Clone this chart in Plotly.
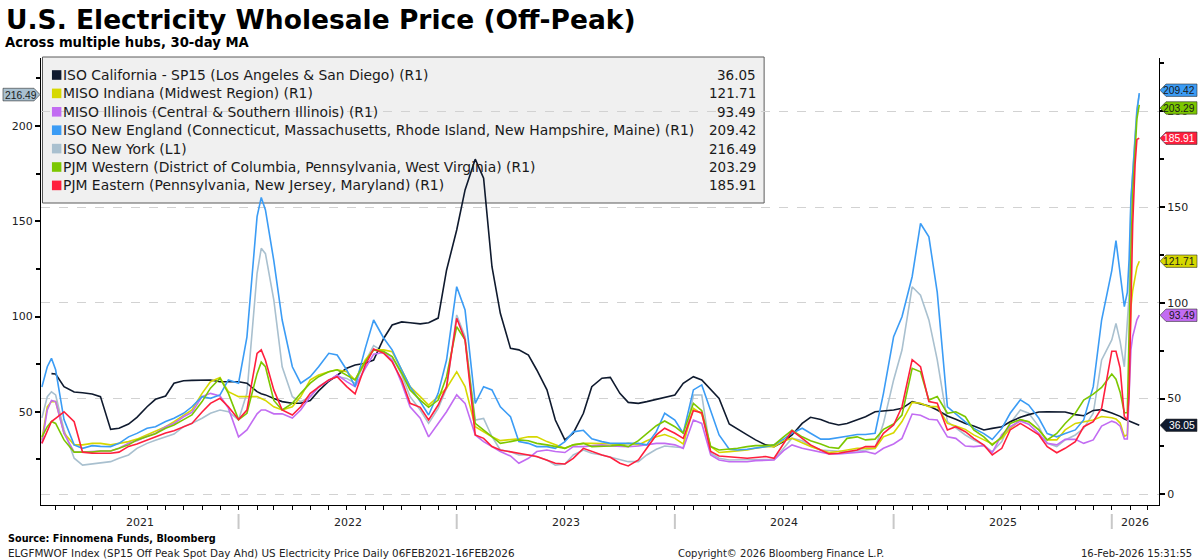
import plotly.graph_objects as go
from datetime import datetime

# ---------------- data (30-day MA, $/MWh) ----------------
dates = [
    "2021-02-06", "2021-02-15", "2021-02-22", "2021-03-01", "2021-03-15", "2021-04-01", "2021-04-15",
    "2021-05-01", "2021-05-15", "2021-06-01", "2021-06-15", "2021-07-01", "2021-07-15", "2021-08-01",
    "2021-08-15", "2021-09-01", "2021-09-15", "2021-10-01", "2021-10-15", "2021-11-01", "2021-11-15",
    "2021-12-01", "2021-12-15",
    "2022-01-01", "2022-01-15", "2022-02-01", "2022-02-08", "2022-02-15", "2022-03-01", "2022-03-15",
    "2022-04-01", "2022-04-15", "2022-05-01", "2022-05-15", "2022-06-01", "2022-06-15", "2022-07-01",
    "2022-07-15", "2022-08-01", "2022-08-15", "2022-09-01", "2022-09-15", "2022-10-01", "2022-10-15",
    "2022-11-01", "2022-11-15", "2022-12-01", "2022-12-15",
    "2023-01-01", "2023-01-15", "2023-02-01", "2023-02-15", "2023-03-01", "2023-03-15", "2023-04-01",
    "2023-04-15", "2023-05-01", "2023-05-15", "2023-06-01", "2023-06-15", "2023-07-01", "2023-07-15",
    "2023-08-01", "2023-08-15", "2023-09-01", "2023-09-15", "2023-10-01", "2023-10-15", "2023-11-01",
    "2023-11-15", "2023-12-01", "2023-12-15",
    "2024-01-01", "2024-01-15", "2024-02-01", "2024-02-15", "2024-03-01", "2024-03-15", "2024-04-01",
    "2024-04-15", "2024-05-01", "2024-05-15", "2024-06-01", "2024-06-15", "2024-07-01", "2024-07-15",
    "2024-08-01", "2024-08-15", "2024-09-01", "2024-09-15", "2024-10-01", "2024-10-15", "2024-11-01",
    "2024-11-15", "2024-12-01", "2024-12-15",
    "2025-01-01", "2025-01-15", "2025-02-01", "2025-02-15", "2025-03-01", "2025-03-15", "2025-04-01",
    "2025-04-15", "2025-05-01", "2025-05-15", "2025-06-01", "2025-06-15", "2025-07-01", "2025-07-15",
    "2025-08-01", "2025-08-15", "2025-09-01", "2025-09-15", "2025-10-01", "2025-10-15", "2025-11-01",
    "2025-11-15", "2025-12-01", "2025-12-15",
    "2026-01-01", "2026-01-08", "2026-01-15", "2026-01-22", "2026-01-27", "2026-01-30", "2026-02-02",
    "2026-02-05", "2026-02-09", "2026-02-12", "2026-02-16",
]

iso_california = [
    None, None, 63, 62.8, 56.2, 53.4, 53, 52.4, 51, 33.9, 34.5, 36.7, 40.2, 45.7, 49.6, 51.3, 58, 59.3, 59.5, 59.7, 59.7, 58.8, 58.8,
    58.8, 58, 53.6, 52.5, 51.9, 50, 48.4, 47.5, 47.5, 49, 54, 59, 62.3, 65.8, 67.5, 68.4, 70.1, 81.5, 88.4, 90, 89.6, 89, 89.6, 92, 117,
    138, 158.9, 175, 165, 118.8, 94.5, 76.2, 75.4, 72.7, 64.9, 54.5, 38.8, 28.4, 31.9, 42.3, 56.2, 60.6, 61, 52.7, 48, 47.5, 48.4, 49.6, 50.6,
    51.8, 57.9, 61.4, 59.7, 54.5, 50.1, 36.7, 33.9, 31, 28.4, 25.8, 24.9, 27.5, 31, 37, 40.2, 39.1, 37.4, 36.2, 37, 38.8, 40.5, 43.1, 43.6,
    44, 44.9, 48.4, 47.2, 46.1, 44, 40.9, 39.2, 37, 35.6, 33.6, 34.4, 35.3, 37.9, 40.2, 41.6, 43, 43.1, 43.1, 43, 41.6, 41, 43.8, 44.2,
    42.5, 41.6, 40.7, 39.3, 38.6, 38.3, 37.9, 37.4, 37.1, 36.6, 36.05,
]

miso_indiana = [
    28.4, 45.7, 48.4, 48.4, 32, 25.8, 25.8, 26.6, 26.6, 25.8, 26.6, 27.5, 28.8, 31.1, 32.9, 35.3, 37.9, 41.4, 44, 52.7, 58.8, 61, 53.6,
    51, 51, 51, 50, 49, 45.7, 44, 45.7, 51, 59.7, 62.3, 64, 65, 64, 59.7, 70.1, 75.4, 75.4, 74.5, 64.9, 56.2, 51, 46.6, 51, 55.4,
    64, 56.2, 35.3, 32.7, 30, 28, 28.5, 29, 30, 30, 27.5, 25.8, 24, 25.8, 26.6, 26.6, 26.6, 26.3, 25.8, 26.6, 25.8, 28, 30, 31.2,
    29.2, 26.3, 44.9, 41.9, 24.9, 21.8, 22.3, 22.8, 23.1, 24, 24.9, 24.9, 28, 29.2, 26.9, 24.9, 23.1, 21.8, 22.3, 23.1, 24, 24, 24, 30,
    32.1, 38, 48, 47.5, 45.8, 45.8, 37, 35.7, 33.9, 31, 28.4, 26.3, 29.2, 34.4, 38.8, 37.9, 33.6, 28.4, 28.4, 33.6, 37, 37.9, 38.8, 40.6,
    40, 39.3, 37.2, 30.3, 31.1, 61.1, 97.6, 106.4, 113.3, 118.6, 121.71,
]

miso_illinois = [
    26.6, 44, 49, 48.4, 31.8, 22, 22, 22.5, 22.6, 22.6, 24, 26.6, 28, 30.3, 31.8, 35.3, 37, 40.5, 42.8, 51, 52.7, 51.3, 45,
    30, 33.6, 42, 44, 44, 42, 42, 39.8, 44, 51, 56, 59.7, 62.3, 58.8, 56.2, 65.8, 73.1, 74, 70.1, 58, 45.7, 39.7, 30, 37, 43.1,
    51.9, 47.5, 31, 27.5, 24.9, 22.3, 20, 16.2, 18.8, 22.3, 23.1, 22.3, 21.8, 24.9, 24.9, 25.2, 25.8, 25.2, 24.9, 24.9, 25.2, 25.8, 26.6, 26.6,
    25.8, 24, 38.8, 37, 20.5, 17.9, 17, 17, 17, 17.6, 17.9, 17.9, 22.8, 25.8, 24, 23.1, 21.8, 21.1, 21.1, 21.4, 21.8, 22.3, 21.1, 24,
    26.3, 29.2, 41.9, 41.3, 39.2, 38.8, 30, 29.2, 25.2, 24.9, 25.4, 21.7, 31.1, 35.3, 38.3, 36.6, 31.7, 26.6, 25.8, 28.7, 28.7, 26.6, 28.4, 35.6,
    38.2, 37.4, 35.6, 28.9, 28.9, 52.8, 75.4, 82.4, 87.7, 91.1, 93.49,
]

iso_new_england = [
    56, 66.6, 71, 65, 39, 25.8, 24, 25.4, 25, 24.9, 26.6, 30, 31.8, 34.5, 35.3, 38, 39.7, 42.3, 45.7, 51, 50.1, 51.9, 59.7,
    58, 82, 145, 155, 148.5, 122, 91, 66.6, 58, 61.4, 66.6, 73.6, 72.7, 64.9, 56.2, 76.2, 91, 81.5, 75.4, 64.9, 56.2, 48.4, 41.4, 52.7, 70.1,
    108.4, 96.2, 47.5, 56.2, 54.5, 45.7, 40.5, 27.5, 26.6, 24.9, 24.9, 24, 27.5, 32.6, 33.4, 29, 27.5, 26.6, 26.6, 26.6, 26.6, 25.8, 32.7, 42.3,
    38.8, 31.9, 54.5, 57.1, 43.1, 31, 23.5, 23.1, 23.5, 24, 24.9, 25.8, 28.8, 31.9, 34.5, 31.9, 28.8, 28.8, 29.4, 30.3, 31.2, 31.2, 31.9, 52.7,
    82.3, 92.7, 113.6, 141.4, 134.4, 105.4, 45.7, 41.9, 37.8, 34.4, 31.7, 28.6, 34.4, 42.3, 49.3, 46.6, 39.7, 31.7, 30, 31.7, 33.6, 38.8, 56.2, 91,
    116.8, 132.4, 113.6, 98, 105.4, 122.8, 154, 169.7, 185.4, 199.4, 209.42,
]

iso_new_york = [
    46.8, 57.9, 60.5, 58.8, 40.4, 25.6, 22, 22.6, 23.3, 23.8, 25.6, 27.3, 30.8, 33.4, 35, 36.9, 38.3, 42.2, 43.9, 46.6, 49.2, 50.9, 50,
    45.7, 59.7, 122.7, 135.8, 133, 108.7, 73.6, 57.9, 55.3, 57.9, 63.2, 66.7, 68.4, 67.5, 64.9, 76.3, 84.7, 81.5, 78.9, 69.3, 57.9, 50.9, 43.9, 51.8, 62.3,
    100.8, 89.4, 45.7, 46.5, 36.9, 29.9, 29, 27.3, 27.3, 26.4, 24.7, 22, 22.6, 27.3, 29.9, 28.2, 27.3, 26.1, 24.7, 23.8, 23.8, 27.3, 30.3, 32,
    31.5, 31.1, 58.8, 58.8, 28.2, 25.6, 24.7, 24.7, 24.7, 24.7, 24.7, 25, 30.8, 36.1, 34.8, 32, 29.9, 29.6, 29, 29, 29.6, 29.9, 30.8, 43.9,
    66.7, 82.4, 115.6, 111.2, 98.2, 77.2, 44.8, 41.3, 37.8, 35.2, 32.5, 29, 34.3, 43.9, 50.9, 49.2, 42.2, 33.4, 31.7, 35.2, 37.8, 41.3, 49.2, 77.2,
    87.7, 96.4, 86.8, 73.6, 94.5, 111.2, 160, 177.5, 195, 209, 216.49,
]

pjm_western = [
    30, 35.3, 38, 37, 28.4, 22, 22, 22, 22.6, 22.6, 24, 25.8, 28.4, 30.3, 31.6, 34.5, 36.2, 39, 41.4, 48.4, 55.4, 60.6, 52.7,
    39, 42.3, 63, 69, 66.6, 49, 44, 47.5, 52.7, 58, 61.4, 64, 65, 62.3, 59.7, 69.2, 75.4, 74.5, 71.9, 63.2, 54.5, 49.2, 45.4, 49.2, 61.4,
    87.5, 80.6, 37, 33.6, 30, 26.6, 27.5, 28.4, 28, 26.6, 25.8, 24.9, 24, 25.8, 26.6, 24.9, 24.9, 25.2, 25.8, 24.9, 28, 31.5, 35.8, 38.3,
    35.3, 31.9, 47.5, 43.7, 24.9, 23.1, 23.5, 24, 24.9, 25.4, 25.4, 25.8, 30, 33.4, 30, 28, 26.3, 24.6, 24, 29.2, 30, 28.4, 28.8, 33.9,
    36.7, 41.4, 65.8, 64, 49.2, 51, 42.3, 43.1, 40.5, 33.6, 30, 25.7, 30, 37, 39, 37.9, 33.6, 28.4, 31.8, 37, 42.3, 49.2, 52.3, 55.8,
    62.8, 60.1, 53.3, 42.6, 42.6, 88.4, 126.5, 157.6, 183.3, 196, 203.29,
]

pjm_eastern = [
    26.6, 33.6, 38, 39.7, 43.1, 37.9, 22, 21.4, 21.4, 21.4, 22, 25, 26.3, 28.4, 30.3, 32, 33.2, 35.3, 37, 43, 47.5, 50.1, 45.7,
    39, 44, 73.6, 75.4, 70, 54.5, 44, 41.4, 45.7, 52.7, 56, 59.7, 61.4, 56.2, 52.4, 67.5, 75.9, 73.6, 69.2, 59.7, 47.5, 45.4, 38.8, 46.6, 56.2,
    91.9, 80.6, 31, 29.2, 24.9, 23.1, 22.3, 21.4, 20.5, 19.7, 17.9, 16.2, 15.8, 18.8, 24, 22.3, 20.5, 19.3, 16.2, 14.8, 17.9, 24, 31, 34.5,
    31.9, 29.2, 43.7, 42.6, 22.3, 20, 19.7, 19.4, 18.8, 19.2, 19.7, 18.8, 26.6, 33.2, 29.2, 25.8, 23.1, 21.1, 21.4, 22.3, 23.1, 24.9, 24.9, 31.8,
    36.2, 45.7, 70.3, 66.6, 48.4, 47.5, 33.6, 35.3, 32.7, 29.2, 25.7, 20.5, 24, 33.6, 37, 34.4, 31, 24.9, 21.7, 24, 27.5, 35.3, 37.9, 45,
    74.7, 74.7, 65.9, 40.6, 38.9, 52.8, 101.5, 141.1, 172.4, 185.3, 185.91,
]

series_names = [
    "ISO California - SP15 (Los Angeles & San Diego) (R1)",
    "MISO Indiana (Midwest Region) (R1)",
    "MISO Illinois (Central & Southern Illinois) (R1)",
    "ISO New England (Connecticut, Massachusetts, Rhode Island, New Hampshire, Maine) (R1)",
    "ISO New York (L1)",
    "PJM Western (District of Columbia, Pennsylvania, West Virginia) (R1)",
    "PJM Eastern (Pennsylvania, New Jersey, Maryland) (R1)",
]
series_values = [iso_california, miso_indiana, miso_illinois, iso_new_england,
                 iso_new_york, pjm_western, pjm_eastern]
last_labels = ["36.05", "121.71", "93.49", "209.42", "216.49", "203.29", "185.91"]
year_labels = ["2021", "2022", "2023", "2024", "2025", "2026"]

# ---------------- styling ----------------
colors = ["#0f1a2e", "#d6d800", "#c26cf2", "#3b9cf5", "#a9c0cf", "#7cc700", "#ff1f3d"]
tag_text_colors = ["#ffffff", "#1a1a1a", "#1a1a1a", "#1a1a1a", "#1a1a1a", "#1a1a1a", "#ffffff"]
tag_nudge = [0, 0, 0, 3, 0, -3, 0]
axes = ["y2", "y2", "y2", "y2", "y", "y2", "y2"]

for v in series_values:
    assert len(v) == len(dates)

W, H = 1200, 560
ML, MR, MT, MB = 38, 38, 58, 55
PW = W - ML - MR
PH = H - MT - MB
FONT = "DejaVu Sans"
NARROW = "Liberation Sans"


def px(X):
    return (X - ML) / PW


def py(Y):
    return (H - MB - Y) / PH


fig = go.Figure()
for name, vals, col, ax in zip(series_names, series_values, colors, axes):
    fig.add_trace(go.Scatter(
        x=dates, y=vals, mode="lines", name=name, yaxis=ax,
        line=dict(color=col, width=1.6), showlegend=False, hoverinfo="skip",
    ))

x_start = "2021-02-04 12:00"
x_end = "2026-03-21"

shapes = []
annotations = []

# legend box (below the lines and gridlines, like the reference)
shapes.append(dict(type="rect", xref="paper", yref="paper", layer="below",
                   x0=px(39.5), x1=px(765), y0=py(203), y1=py(57),
                   fillcolor="#f0f0f0", line=dict(color="#5a5a5a", width=1)))
row_y = [75, 93.4, 111.8, 130.2, 148.6, 167, 185.4]
for i, (name, col, lab) in enumerate(zip(series_names, colors, last_labels)):
    yc = row_y[i]
    shapes.append(dict(type="rect", xref="paper", yref="paper", layer="above",
                       x0=px(49), x1=px(58.5), y0=py(yc + 4.8), y1=py(yc - 4.8),
                       fillcolor=col, line=dict(width=0)))
    annotations.append(dict(xref="paper", yref="paper", x=px(58), y=py(yc),
                            xanchor="left", yanchor="middle", showarrow=False,
                            text=name, font=dict(family=FONT, size=13.9, color="#1a1a1a")))
    annotations.append(dict(xref="paper", yref="paper", x=px(759), y=py(yc),
                            xanchor="right", yanchor="middle", showarrow=False,
                            text=lab, font=dict(family=FONT, size=13.5, color="#1a1a1a")))

# value tags on the axes
for vals, col, tcol, ax, lab, nud in zip(series_values, colors, tag_text_colors, axes, last_labels, tag_nudge):
    last = vals[-1]
    if ax == "y2":
        shapes.append(dict(type="path", xref="paper", yref="y2", xsizemode="pixel", ysizemode="pixel",
                           xanchor=1.0, yanchor=last, layer="above",
                           path="M 1 %s L 7 %s L 38 %s L 38 %s L 7 %s Z" % (nud, 6.2 + nud, 6.2 + nud, -6.2 + nud, -6.2 + nud),
                           fillcolor=col, line=dict(color="#333333", width=0.6)))
        annotations.append(dict(xref="paper", yref="y2", x=1.0, y=last, xanchor="right", yanchor="middle",
                                xshift=38, yshift=nud, height=10, showarrow=False, text=lab,
                                font=dict(family=NARROW, size=10.3, color=tcol)))
    else:
        shapes.append(dict(type="path", xref="paper", yref="y", xsizemode="pixel", ysizemode="pixel",
                           xanchor=0.0, yanchor=last, layer="above",
                           path="M -1 0 L -7 6.3 L -38 6.3 L -38 -6.3 L -7 -6.3 Z",
                           fillcolor=col, line=dict(color="#333333", width=0.6)))
        annotations.append(dict(xref="paper", yref="y", x=0.0, y=last, xanchor="left", yanchor="middle",
                                xshift=-38, height=10, showarrow=False, text=lab,
                                font=dict(family=NARROW, size=10.3, color=tcol)))

# year separators and labels below the x axis
bounds = [datetime(2021, 2, 4, 12), datetime(2022, 1, 1), datetime(2023, 1, 1), datetime(2024, 1, 1),
          datetime(2025, 1, 1), datetime(2026, 1, 1), datetime(2026, 3, 21)]
for b in bounds[1:-1]:
    shapes.append(dict(type="line", xref="x", yref="paper", x0=b, x1=b,
                       y0=py(514), y1=py(529), line=dict(color="#c8c8c8", width=2)))
for i, lab in enumerate(year_labels):
    mid = bounds[i] + (bounds[i + 1] - bounds[i]) / 2
    annotations.append(dict(xref="x", yref="paper", x=mid, y=py(522), xanchor="center", yanchor="middle",
                            showarrow=False, text=lab, font=dict(family=FONT, size=11, color="#222222")))

# titles & footer
annotations += [
    dict(xref="paper", yref="paper", x=px(1), y=py(19), xanchor="left", yanchor="middle", showarrow=False,
         text="<b>U.S. Electricity Wholesale Price (Off-Peak)</b>",
         font=dict(family=FONT, size=26.5, color="#000000")),
    dict(xref="paper", yref="paper", x=px(0), y=py(43), xanchor="left", yanchor="middle", showarrow=False,
         text="<b>Across multiple hubs, 30-day MA</b>", font=dict(family=FONT, size=13.2, color="#000000")),
    dict(xref="paper", yref="paper", x=px(3), y=py(538), xanchor="left", yanchor="middle", showarrow=False,
         text="<b>Source: Finnomena Funds, Bloomberg</b>", font=dict(family=FONT, size=9.7, color="#000000")),
    dict(xref="paper", yref="paper", x=px(3), y=py(553), xanchor="left", yanchor="middle", showarrow=False,
         text="ELGFMWOF Index (SP15 Off Peak Spot Day Ahd) US Electricity Price Daily 06FEB2021-16FEB2026",
         font=dict(family=FONT, size=10.4, color="#222222")),
    dict(xref="paper", yref="paper", x=px(676), y=py(553), xanchor="left", yanchor="middle", showarrow=False,
         text="Copyright© 2026 Bloomberg Finance L.P.", font=dict(family=FONT, size=10, color="#222222")),
    dict(xref="paper", yref="paper", x=px(1197), y=py(553), xanchor="right", yanchor="middle", showarrow=False,
         text="16-Feb-2026 15:31:55", font=dict(family=FONT, size=10, color="#222222")),
]

fig.update_layout(
    width=W, height=H,
    margin=dict(l=ML, r=MR, t=MT, b=MB, pad=0),
    paper_bgcolor="#ffffff", plot_bgcolor="#ffffff",
    font=dict(family=FONT, size=11, color="#222222"),
    showlegend=False,
    shapes=shapes, annotations=annotations,
    xaxis=dict(type="date", range=[x_start, x_end], showgrid=False, zeroline=False,
               showline=True, linecolor="#000000", linewidth=1,
               ticks="outside", ticklen=4, tickcolor="#000000", tick0="2021-01-01", dtick="M1",
               showticklabels=False, fixedrange=True),
    yaxis=dict(range=[1.05, 235.7], side="left", showgrid=False, zeroline=False,
               showline=True, linecolor="#000000", linewidth=1,
               tickvals=[50, 100, 150, 200], ticks="outside", ticklen=5, tickwidth=2, tickcolor="#000000",
               minor=dict(tickvals=[25, 75, 125, 175, 225], ticks="outside", ticklen=4, tickcolor="#000000"),
               tickfont=dict(family=FONT, size=11, color="#222222")),
    yaxis2=dict(range=[-5.59, 227.8], side="right", overlaying="y", zeroline=False,
                showgrid=True, gridcolor="#d2d2d2", griddash="dash", gridwidth=1,
                showline=True, linecolor="#000000", linewidth=1,
                tickvals=[0, 50, 100, 150, 200], ticks="outside", ticklen=5, tickwidth=2, tickcolor="#000000",
                minor=dict(tickvals=[25, 75, 125, 175, 225], ticks="outside", ticklen=4, tickcolor="#000000"),
                tickfont=dict(family=FONT, size=11, color="#222222")),
)

fig.write_html("out.html")
